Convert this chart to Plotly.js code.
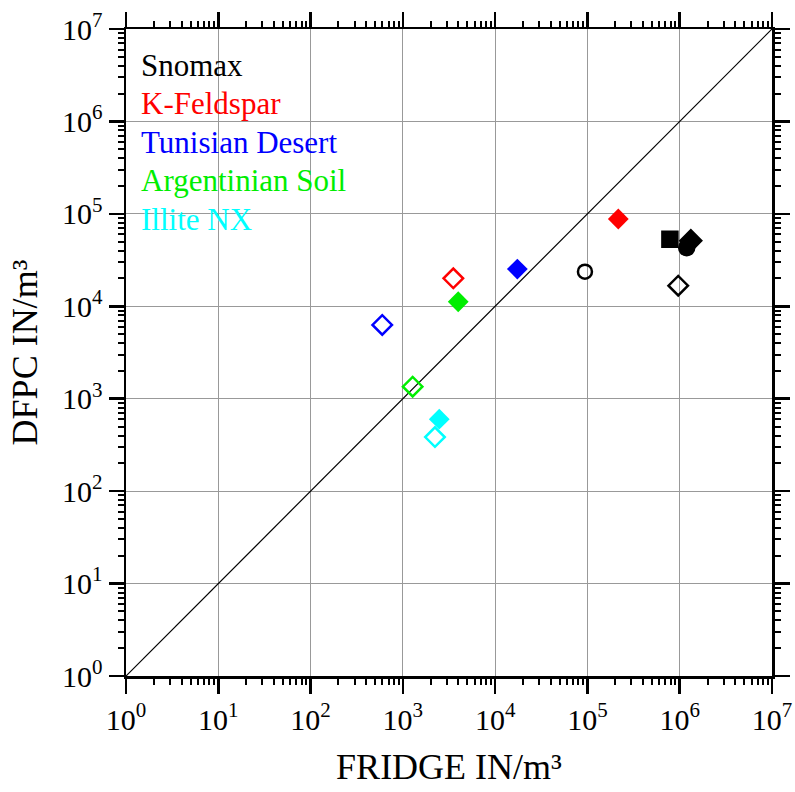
<!DOCTYPE html>
<html><head><meta charset="utf-8">
<script src="https://cdn.plot.ly/plotly-3.0.1.min.js"></script>
<style>body{margin:0;background:#fff}</style>
</head><body><div id="plot" style="width:795px;height:792px"></div>
<script>
// Data (FRIDGE IN/m3 vs DFPC IN/m3)
const sampleNames = ["Snomax","K-Feldspar","Tunisian Desert","Argentinian Soil","Illite NX"];
const sampleColors = ["#000000","#ff0000","#0000ff","#00ee00","#00ffff"];

// Snomax (black) points
const snomaxX = [94000, 783000, 1190000, 1320000, 964000];
const snomaxY = [23700, 53000, 43000, 51200, 16700];
const snomaxSymbols = ["circle-open","square","circle","diamond","diamond-open"];

// filled diamonds for the other samples: K-Feldspar, Tunisian, Argentinian, Illite
const filledX = [216000, 17400, 3980, 2480];
const filledY = [88000, 25300, 11200, 600];
// open diamonds: K-Feldspar, Tunisian, Argentinian, Illite
const openX = [3520, 598, 1277, 2228];
const openY = [20100, 6280, 1350, 385];

const oneToOne = [1, 1e7];
const tickVals = [1,10,100,1000,1e4,1e5,1e6,1e7];
const tickText = ["10<sup>0</sup>","10<sup>1</sup>","10<sup>2</sup>","10<sup>3</sup>","10<sup>4</sup>","10<sup>5</sup>","10<sup>6</sup>","10<sup>7</sup>"];

const font = "Liberation Serif, Times New Roman, serif";
const otherColors = sampleColors.slice(1);

const traces = [
  {x: oneToOne, y: oneToOne, mode: "lines", line: {color: "#000", width: 1.2}, hoverinfo: "skip"},
  {x: snomaxX, y: snomaxY, mode: "markers",
   marker: {symbol: snomaxSymbols, size: [14,15,15,16,15], opacity: 1, color: "#000", line: {color: "#000", width: 2.5}}},
  {x: filledX, y: filledY, mode: "markers",
   marker: {symbol: "diamond", size: 16, opacity: 1, color: otherColors, line: {width: 0}}},
  {x: openX, y: openY, mode: "markers",
   marker: {symbol: "diamond-open", size: 15, opacity: 1, color: otherColors, line: {color: otherColors, width: 2.5}}}
];

const axisCommon = {
  type: "log", range: [0, 7], tickvals: tickVals, ticktext: tickText,
  showgrid: true, gridcolor: "#999", gridwidth: 1.2,
  zeroline: false, showline: true, linecolor: "#000", linewidth: 2.5,
  mirror: "ticks", ticks: "outside", ticklen: 15, tickwidth: 2.5, tickcolor: "#000",
  tickfont: {family: font, size: 30, color: "#000"},
  minor: {ticks: "outside", ticklen: 6, tickwidth: 2, tickcolor: "#000", dtick: "D1", showgrid: false}
};

const annotations = sampleNames.map((n, i) => ({
  xref: "paper", yref: "paper", x: 0.02, y: 0.944 - i*0.0595, xanchor: "left", yanchor: "middle",
  text: n, showarrow: false, font: {family: font, size: 31, color: sampleColors[i]}
}));

const layout = {
  width: 795, height: 792,
  margin: {l: 126, r: 23, t: 29, b: 116},
  paper_bgcolor: "#fff", plot_bgcolor: "#fff",
  showlegend: false,
  xaxis: Object.assign({}, axisCommon, {title: {text: "FRIDGE IN/m³", font: {family: font, size: 36, color: "#000"}, standoff: 20}}),
  yaxis: Object.assign({}, axisCommon, {title: {text: "DFPC IN/m³", font: {family: font, size: 36, color: "#000"}, standoff: 14}}),
  annotations: annotations
};

Plotly.newPlot("plot", traces, layout, {displayModeBar: false, staticPlot: true});
</script></body></html>
